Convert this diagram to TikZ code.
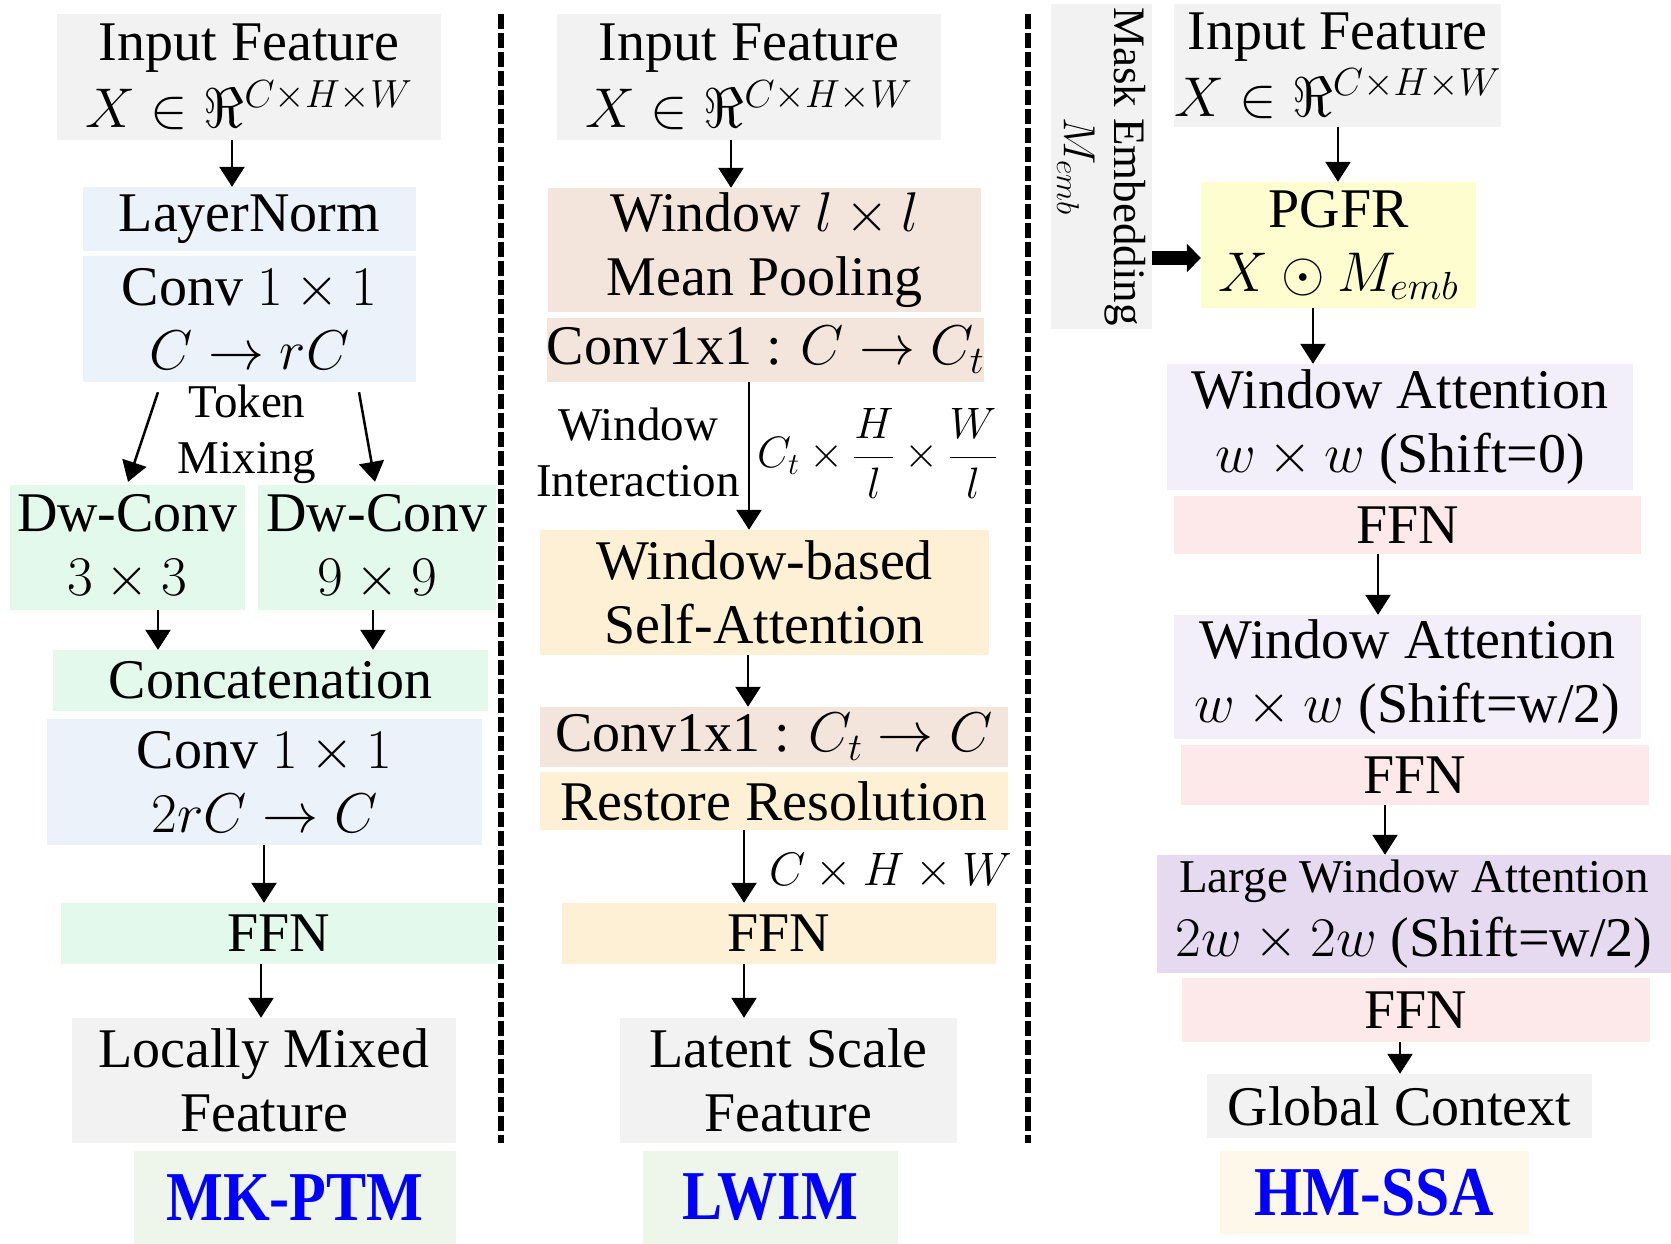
\documentclass[tikz,border=0pt]{standalone}
\usepackage{fix-cm}
\usepackage{fontspec}
\setmainfont{Liberation Serif}
\usepackage{tikz}
\usetikzlibrary{arrows.meta,calc}
\definecolor{boxGray}{HTML}{F2F2F2}
\definecolor{boxBlue}{HTML}{EBF2FA}
\definecolor{boxMint}{HTML}{E3F9EC}
\definecolor{boxPeach}{HTML}{F4E5DC}
\definecolor{boxSand}{HTML}{FDF0D5}
\definecolor{boxLemon}{HTML}{FEFDD0}
\definecolor{boxLilac}{HTML}{F3EFFA}
\definecolor{boxRose}{HTML}{FDE9E9}
\definecolor{boxPurple}{HTML}{E6DAF1}
\definecolor{tagGreen}{HTML}{EEF5EA}
\definecolor{tagCream}{HTML}{FEF8EB}
\newcommand{\boxfont}{\fontsize{56}{64}\selectfont}
\newcommand{\notefont}{\fontsize{47}{56}\selectfont}
\newcommand{\tagfont}{\fontsize{70}{70}\selectfont\bfseries}
\tikzstyle{block}=[rectangle,inner sep=0pt,align=center,font=\boxfont]
\tikzstyle{note}=[inner sep=0pt,align=center,font=\notefont]
\tikzstyle{tagbox}=[rectangle,inner sep=0pt,font=\tagfont,text=blue]
\tikzstyle{arr}=[draw,line width=2.5pt,-{Triangle[width=25pt,length=20pt]}]
\tikzstyle{bigarr}=[draw,line width=14pt,-{Triangle[width=28pt,length=14pt]}]
\tikzstyle{divider}=[line width=6pt,dash pattern=on 15pt off 4pt]

\begin{document}
\begin{tikzpicture}[x=1pt,y=-1pt]
\useasboundingbox (0,0) rectangle (1671,1244);

%MK-PTM
\node[block,fill=boxGray,minimum width=384pt,minimum height=126pt] (in1) at (249,77) {Input Feature\\[3pt]$X\in\Re^{C\times H\times W}$};
\node[block,fill=boxBlue,minimum width=333pt,minimum height=64pt] (ln1) at (249.5,219) {LayerNorm};
\node[block,fill=boxBlue,minimum width=333pt,minimum height=126pt] (cv1) at (249.5,319) {Conv $1\times 1$\\$C\rightarrow rC$};
\node[note] (tok) at (247,434) {Token\\Mixing};
\node[block,fill=boxMint,minimum width=235pt,minimum height=125pt] (dw3) at (127.5,547.5) {Dw-Conv\\$3\times 3$};
\node[block,fill=boxMint,minimum width=238pt,minimum height=125pt] (dw9) at (377,547.5) {Dw-Conv\\$9\times 9$};
\node[block,fill=boxMint,minimum width=435pt,minimum height=61pt] (cat) at (270.5,680.5) {Concatenation};
\node[block,fill=boxBlue,minimum width=435pt,minimum height=126pt] (cv2) at (264.5,782) {Conv $1\times 1$\\$2rC\rightarrow C$};
\node[block,fill=boxMint,minimum width=436pt,minimum height=61pt] (ffn1) at (279,933.5) {FFN};
\node[block,fill=boxGray,minimum width=384pt,minimum height=125pt] (out1) at (264,1080.5) {Locally Mixed\\Feature};
\node[tagbox,fill=tagGreen,minimum width=322pt,minimum height=93pt] (lab1) at (295,1197.5) {\scalebox{0.86}[1]{MK-PTM}};

\draw[arr] ([xshift=-91.5pt,yshift=-10pt]cv1.south) -- ([xshift=0.5pt,yshift=3pt]dw3.north);
\draw[arr] ([xshift=109.5pt,yshift=-10pt]cv1.south) -- ([xshift=-2pt,yshift=3pt]dw9.north);
\foreach \source/\dest/\sx/\ex in {in1/ln1/-17/-17.5, dw3/cat/30.5/-112.5, dw9/cat/-4/102.5, cv2/ffn1/-0.5/-15, ffn1/out1/-18/-3}
    \draw[arr] ([xshift=\sx pt]\source.south) -- ([xshift=\ex pt]\dest.north);

\draw[divider] (501,14) -- (501,1143);

%LWIM
\node[block,fill=boxGray,minimum width=384pt,minimum height=126pt] (in2) at (749,77) {Input Feature\\[3pt]$X\in\Re^{C\times H\times W}$};
\node[block,fill=boxPeach,minimum width=433pt,minimum height=124pt] (pool) at (764.5,250) {Window $l\times l$\\Mean Pooling};
\node[block,fill=boxPeach,minimum width=435pt,minimum height=64pt] (ct1) at (765.5,350) {Conv1x1 : $C\rightarrow C_t$};
\node[note,anchor=east] (winint) at (740,452) {Window\\Interaction};
\node[note,anchor=west,font=\fontsize{44}{50}\selectfont] (ctlab) at (757,453) {$\displaystyle C_t\times\frac{H}{l}\times\frac{W}{l}$};
\node[block,fill=boxSand,minimum width=449pt,minimum height=125pt] (wsa) at (764.5,592.5) {Window-based\\Self-Attention};
\node[block,fill=boxPeach,minimum width=468pt,minimum height=60pt] (ct2) at (774,737) {Conv1x1 : $C_t\rightarrow C$};
\node[block,fill=boxSand,minimum width=468pt,minimum height=58pt] (rr) at (774,801) {Restore Resolution};
\node[note,anchor=west] (chw) at (769,871) {$C\times H\times W$};
\node[block,fill=boxSand,minimum width=434pt,minimum height=61pt] (ffn2) at (779,933.5) {FFN};
\node[block,fill=boxGray,minimum width=337pt,minimum height=125pt] (out2) at (788.5,1080.5) {Latent Scale\\Feature};
\node[tagbox,fill=tagGreen,minimum width=255pt,minimum height=93pt] (lab2) at (770.5,1197.5) {\scalebox{0.86}[1]{LWIM}};

\foreach \source/\dest/\sx/\ex in {in2/pool/-18/-33.5, ct1/wsa/-16.5/-15.5, wsa/ct2/-16.5/-26, rr/ffn2/-30/-35, ffn2/out2/-35/-44.5}
    \draw[arr] ([xshift=\sx pt]\source.south) -- ([xshift=\ex pt]\dest.north);

\draw[divider] (1028,14) -- (1028,1143);

%HM-SSA
\node[block,fill=boxGray,rotate=-90,minimum width=325pt,minimum height=101pt,font=\fontsize{45}{51}\selectfont] (mask) at (1101.5,166.5) {Mask Embedding\\$M_{emb}$};
\node[block,fill=boxGray,minimum width=319pt,minimum height=123pt] (in3) at (1337.5,65.5) {Input Feature\\[3pt]$X\in\Re^{C\times H\times W}$};
\node[block,fill=boxLemon,minimum width=275pt,minimum height=126pt] (pgfr) at (1338.5,245) {PGFR\\$X\odot M_{emb}$};
\node[block,fill=boxLilac,minimum width=466pt,minimum height=126pt] (wa1) at (1400,427) {Window Attention\\$w\times w$ (Shift=0)};
\node[block,fill=boxRose,minimum width=467pt,minimum height=58pt] (f3a) at (1407.5,525) {FFN};
\node[block,fill=boxLilac,minimum width=467pt,minimum height=124pt] (wa2) at (1407.5,677) {Window Attention\\$w\times w$ (Shift=w/2)};
\node[block,fill=boxRose,minimum width=468pt,minimum height=60pt] (f3b) at (1415,775) {FFN};
\node[block,fill=boxPurple,minimum width=514pt,minimum height=118pt] (lwa) at (1414,914) {{\notefont Large Window Attention}\\$2w\times 2w$ (Shift=w/2)};
\node[block,fill=boxRose,minimum width=468pt,minimum height=64pt] (f3c) at (1416,1010) {FFN};
\node[block,fill=boxGray,minimum width=385pt,minimum height=64pt] (gc) at (1399.5,1106) {Global Context};
\node[tagbox,fill=tagCream,minimum width=309pt,minimum height=83pt] (lab3) at (1374.5,1192.5) {\scalebox{0.88}[1]{HM-SSA}};

\draw[bigarr] ([yshift=-91.5pt]mask.north) -- ([yshift=-13pt]pgfr.west);
\foreach \source/\dest/\sx/\ex in {in3/pgfr/0.5/-0.5, pgfr/wa1/-25.5/-87, f3a/wa2/-29.5/-29.5, f3b/lwa/-30/-29, f3c/gc/-16/0.5}
    \draw[arr] ([xshift=\sx pt]\source.south) -- ([xshift=\ex pt]\dest.north);

\end{tikzpicture}
\end{document}
